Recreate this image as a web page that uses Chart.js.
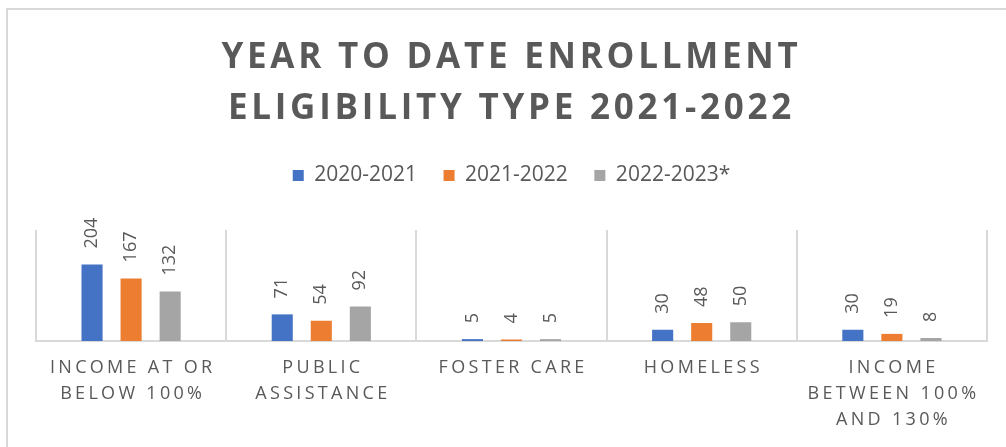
<!DOCTYPE html>
<html><head><meta charset="utf-8">
<script src="https://cdn.jsdelivr.net/npm/chart.js@4.4.0/dist/chart.umd.min.js"></script>
<style>html,body{margin:0;padding:0;background:#fff;}#wrap{position:relative;width:1006px;height:447px;}</style>
</head><body><div id="wrap"><canvas id="c"></canvas></div>
<script>
const chartTitle = ['YEAR TO DATE ENROLLMENT', 'ELIGIBILITY TYPE 2021-2022'];
const categories = [['INCOME AT OR', 'BELOW 100%'], ['PUBLIC', 'ASSISTANCE'], 'FOSTER CARE', 'HOMELESS', ['INCOME', 'BETWEEN 100%', 'AND 130%']];
const seriesNames = ['2020-2021', '2021-2022', '2022-2023*'];
const values2020_2021 = [204, 71, 5, 30, 30];
const values2021_2022 = [167, 54, 4, 48, 19];
const values2022_2023 = [132, 92, 5, 50, 8];
const seriesColors = ['#4472C4', '#ED7D31', '#A5A5A5'];

const TEXT = '#595959';
const GRID = '#D9D9D9';

const framePlugin = {
  id: 'frame',
  beforeDraw(chart) {
    const ctx = chart.ctx;
    ctx.save();
    ctx.fillStyle = '#ffffff';
    ctx.fillRect(0, 0, chart.width, chart.height);
    ctx.fillStyle = GRID;
    ctx.fillRect(6, 8, 2, chart.height - 8);
    ctx.fillRect(6, 8, chart.width - 6, 2);
    ctx.restore();
  }
};

const spacingPlugin = {
  id: 'spacing',
  beforeDraw(chart) {
    const tb = chart.titleBlock;
    if (tb && !tb._spaced) {
      const proto = Object.getPrototypeOf(tb);
      tb.draw = function () { const c = this.ctx; c.save(); c.letterSpacing = '3.75px'; c.translate(0, 0); proto.draw.call(this); c.restore(); };
      tb._spaced = true;
    }
    const sx = chart.scales.x;
    if (sx && !sx._spaced) {
      const proto = Object.getPrototypeOf(sx);
      sx.drawLabels = function (area) { const c = this.ctx; c.save(); c.letterSpacing = '3.3px'; c.translate(1.6, 0); proto.drawLabels.call(this, area); c.restore(); };
      sx._spaced = true;
    }
  }
};

const legendGapPlugin = {
  id: 'legendGap',
  beforeLayout(chart) {
    const lg = chart.legend;
    if (lg && !lg._gap) {
      const proto = Object.getPrototypeOf(lg);
      lg.fit = function () { proto.fit.call(this); this.height += 34; };
      lg._gap = true;
    }
  }
};

const valueLabelPlugin = {
  id: 'valueLabels',
  afterDatasetsDraw(chart) {
    const ctx = chart.ctx;
    ctx.save();
    ctx.font = '18px "Open Sans"';
    ctx.fillStyle = TEXT;
    ctx.textAlign = 'left';
    ctx.textBaseline = 'middle';
    chart.data.datasets.forEach((ds, di) => {
      const meta = chart.getDatasetMeta(di);
      meta.data.forEach((bar, i) => {
        ctx.save();
        ctx.translate(bar.x, bar.y - 16);
        ctx.rotate(-Math.PI / 2);
        ctx.fillText(String(ds.data[i]), 0, 0);
        ctx.restore();
      });
    });
    ctx.restore();
  }
};

const seriesValues = [values2020_2021, values2021_2022, values2022_2023];

new Chart(document.getElementById('c'), {
  type: 'bar',
  data: {
    labels: categories,
    datasets: seriesNames.map((name, i) => ({
      label: name,
      data: seriesValues[i],
      backgroundColor: seriesColors[i],
      borderWidth: 0,
      categoryPercentage: 0.616,
      barPercentage: 0.54
    }))
  },
  options: {
    responsive: true,
    maintainAspectRatio: false,
    devicePixelRatio: 1,
    animation: false,
    layout: { padding: { top: 8, left: 36, right: 19, bottom: 0 } },
    plugins: {
      title: {
        display: true,
        text: chartTitle,
        color: TEXT,
        font: { family: '"Open Sans"', size: 35, weight: 'bold', lineHeight: '51px' },
        padding: { top: 25, bottom: 3.5 }
      },
      legend: {
        display: true,
        position: 'top',
        labels: {
          color: TEXT,
          font: { family: '"Open Sans"', size: 21 },
          boxWidth: 11,
          boxHeight: 11,
          padding: 26.5
        }
      },
      tooltip: { enabled: false }
    },
    scales: {
      x: {
        grid: { display: true, color: GRID, lineWidth: 2, drawTicks: false, offset: true },
        border: { display: true, color: GRID, width: 2 },
        ticks: {
          color: TEXT,
          font: { family: '"Open Sans"', size: 18, lineHeight: '26px' },
          padding: 14,
          autoSkip: false,
          maxRotation: 0,
          minRotation: 0
        }
      },
      y: {
        display: false,
        min: 0,
        max: 296
      }
    }
  },
  plugins: [framePlugin, spacingPlugin, legendGapPlugin, valueLabelPlugin]
});
</script>
</body></html>
